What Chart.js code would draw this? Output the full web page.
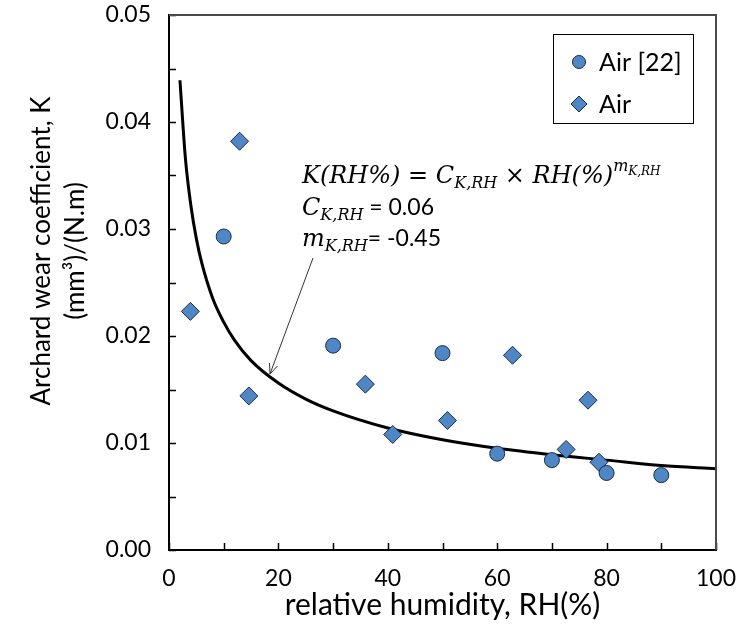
<!DOCTYPE html>
<html>
<head>
<meta charset="utf-8">
<script src="https://cdn.jsdelivr.net/npm/chart.js@4.4.0/dist/chart.umd.min.js"></script>
<style>
  html, body { margin: 0; padding: 0; background: #fff; }
</style>
</head>
<body>
<canvas id="chart" width="738" height="639"></canvas>
<script>
// Air [22] (circles)
const refRH = [10, 30, 50, 60, 70, 80, 90];
const refK = [0.0293, 0.0191, 0.0184, 0.0090, 0.0084, 0.0072, 0.0070];
// Air (diamonds)
const airRH = [3.9, 12.9, 14.6, 35.9, 40.9, 50.9, 62.8, 72.6, 76.6, 78.6];
const airK = [0.0223, 0.0382, 0.0144, 0.0155, 0.0108, 0.0121, 0.0182, 0.0094, 0.0140, 0.0082];
// power-law fit curve
const fitRH = [2, 3, 4, 5, 6, 8, 10, 12, 15, 20, 25, 30, 40, 50, 60, 70, 80, 90, 100];
const fitK = [0.0439, 0.0366, 0.0322, 0.0291, 0.0268, 0.0235, 0.0213, 0.0196, 0.0177, 0.0156,
  0.0141, 0.0130, 0.0114, 0.0103, 0.0095, 0.0089, 0.0084, 0.0079, 0.0076];

const xLabelTicks = [0, 20, 40, 60, 80, 100];
const xMinorTicks = [0, 10, 20, 30, 40, 50, 60, 70, 80, 90, 100];
const yLabelTicks = [0, 0.01, 0.02, 0.03, 0.04, 0.05];
const yMinorTicks = [0, 0.005, 0.01, 0.015, 0.02, 0.025, 0.03, 0.035, 0.04, 0.045, 0.05];
const yTitleLines = ['Archard wear coefficient, K', '(mm³)/(N.m)'];

const markerFill = '#4f86c6';
const markerEdge = '#1c2b40';
const sans = 'Lato, "Open Sans", sans-serif';
const mathFont = '"DejaVu Serif", "Liberation Serif", serif';

const toPoints = (xs, ys) => xs.map((x, i) => ({ x, y: ys[i] }));

// inward tick marks + top/right frame lines
const frame = {
  id: 'frame',
  afterDraw(chart) {
    const { ctx, chartArea: a, scales: { x, y } } = chart;
    ctx.save();
    ctx.strokeStyle = '#000';
    ctx.lineWidth = 1.5;
    ctx.beginPath();
    yMinorTicks.forEach(v => {
      const py = Math.round(y.getPixelForValue(v)) + 0.5;
      ctx.moveTo(a.left, py);
      ctx.lineTo(a.left + 7, py);
    });
    xMinorTicks.forEach(v => {
      const px = Math.round(x.getPixelForValue(v)) + 0.5;
      ctx.moveTo(px, a.bottom);
      ctx.lineTo(px, a.bottom - 7);
    });
    ctx.stroke();
    ctx.strokeStyle = '#4a4a4a';
    ctx.lineWidth = 2;
    ctx.beginPath();
    ctx.moveTo(a.left, a.top);
    ctx.lineTo(a.right, a.top);
    ctx.lineTo(a.right, a.bottom);
    ctx.stroke();
    ctx.restore();
  },
};

function drawRich(ctx, x, y, parts) {
  parts.forEach(p => {
    ctx.font = p.font;
    ctx.fillText(p.t, x, y + (p.dy || 0));
    x += ctx.measureText(p.t).width;
  });
}

const notes = {
  id: 'notes',
  afterDraw(chart) {
    const { ctx } = chart;
    ctx.save();
    ctx.fillStyle = '#000';

    // y axis title, centred on the whole figure like the original
    ctx.save();
    ctx.font = '26px ' + sans;
    ctx.textAlign = 'center';
    ctx.textBaseline = 'middle';
    ctx.translate(42, 251);
    ctx.rotate(-Math.PI / 2);
    ctx.fillText(yTitleLines[0], 0, 0);
    ctx.fillText(yTitleLines[1], 0, 34);
    ctx.restore();

    ctx.textBaseline = 'alphabetic';
    const big = 'italic 24px ' + mathFont;
    const sub = 'italic 16px ' + mathFont;
    const tiny = 'italic 12px ' + mathFont;
    const num = '23px ' + sans;
    drawRich(ctx, 302, 183, [
      { t: 'K(RH%) = C', font: big },
      { t: 'K,RH', font: sub, dy: 5 },
      { t: ' × RH(%)', font: big },
      { t: 'm', font: sub, dy: -12 },
      { t: 'K,RH', font: tiny, dy: -8 },
    ]);
    drawRich(ctx, 302, 215, [
      { t: 'C', font: big },
      { t: 'K,RH', font: sub, dy: 5 },
      { t: ' = 0.06', font: num },
    ]);
    drawRich(ctx, 302, 246, [
      { t: 'm', font: big },
      { t: 'K,RH', font: sub, dy: 5 },
      { t: '= -0.45', font: num },
    ]);

    // arrow pointing at the curve
    const x0 = 313, y0 = 258, x1 = 270, y1 = 374;
    const ang = Math.atan2(y1 - y0, x1 - x0);
    ctx.strokeStyle = '#333';
    ctx.lineWidth = 1;
    ctx.beginPath();
    ctx.moveTo(x0, y0);
    ctx.lineTo(x1, y1);
    [-0.4, 0.4].forEach(d => {
      ctx.moveTo(x1, y1);
      ctx.lineTo(x1 - 11 * Math.cos(ang + d), y1 - 11 * Math.sin(ang + d));
    });
    ctx.stroke();

    // legend box
    ctx.strokeStyle = '#000';
    ctx.lineWidth = 1;
    ctx.strokeRect(553.5, 34.5, 140, 89);
    ctx.font = '25px ' + sans;
    ctx.textBaseline = 'middle';
    const ds = chart.data.datasets;
    [[ds[0], 62], [ds[1], 104]].forEach(([d, ly]) => {
      ctx.fillStyle = markerFill;
      ctx.strokeStyle = markerEdge;
      ctx.beginPath();
      if (d.pointStyle === 'circle') {
        ctx.arc(579, ly, 6.5, 0, Math.PI * 2);
      } else {
        ctx.moveTo(579, ly - 8); ctx.lineTo(587, ly); ctx.lineTo(579, ly + 8); ctx.lineTo(571, ly);
        ctx.closePath();
      }
      ctx.fill();
      ctx.stroke();
      ctx.fillStyle = '#000';
      ctx.fillText(d.label, 599, ly + 1);
    });
    ctx.restore();
  },
};

new Chart(document.getElementById('chart'), {
  type: 'scatter',
  data: {
    datasets: [
      {
        label: 'Air [22]',
        data: toPoints(refRH, refK),
        pointStyle: 'circle',
        pointRadius: 7.5,
        backgroundColor: markerFill,
        borderColor: markerEdge,
        borderWidth: 1,
      },
      {
        label: 'Air',
        data: toPoints(airRH, airK),
        pointStyle: 'rectRot',
        pointRadius: 9,
        backgroundColor: markerFill,
        borderColor: markerEdge,
        borderWidth: 1,
      },
      {
        label: 'fit',
        data: toPoints(fitRH, fitK),
        showLine: true,
        pointRadius: 0,
        borderColor: '#000',
        borderWidth: 3,
        cubicInterpolationMode: 'monotone',
      },
    ],
  },
  options: {
    responsive: false,
    animation: false,
    devicePixelRatio: 1,
    layout: { padding: { left: 0, right: 22, top: 15, bottom: 0 } },
    plugins: {
      legend: { display: false },
      tooltip: { enabled: false },
    },
    scales: {
      x: {
        type: 'linear',
        min: 0,
        max: 100,
        afterBuildTicks: s => { s.ticks = xLabelTicks.map(v => ({ value: v })); },
        afterFit: s => { s.height = 89; s.paddingLeft = 0; s.paddingRight = 0; },
        grid: { display: false, drawTicks: false },
        border: { display: true, color: '#000', width: 2 },
        ticks: { color: '#000', padding: 15, font: { family: sans, size: 23 } },
        title: {
          display: true,
          text: 'relative humidity, RH(%)',
          color: '#000',
          font: { family: sans, size: 30 },
          padding: { top: 0, bottom: 16 },
        },
      },
      y: {
        min: 0,
        max: 0.05,
        afterBuildTicks: s => { s.ticks = yLabelTicks.map(v => ({ value: v })); },
        afterFit: s => { s.width = 169; s.paddingTop = 0; s.paddingBottom = 0; },
        grid: { display: false, drawTicks: false },
        border: { display: true, color: '#000', width: 2 },
        ticks: {
          color: '#000',
          padding: 18,
          font: { family: sans, size: 23 },
          callback: v => v.toFixed(2),
        },
        title: { display: false },
      },
    },
  },
  plugins: [frame, notes],
});
</script>
</body>
</html>
